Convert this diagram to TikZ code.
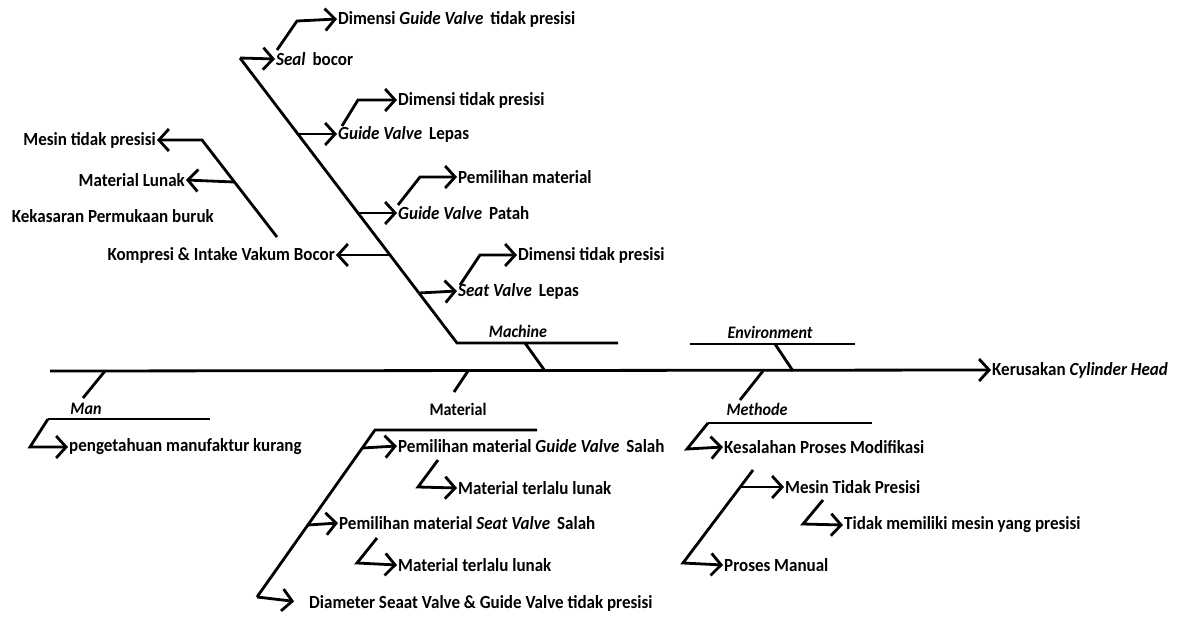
\documentclass[tikz,border=0pt]{standalone}
\usepackage{fontspec}
\setmainfont{Carlito}[FakeStretch=0.92]
\usetikzlibrary{arrows.meta}

\begin{document}
\begin{tikzpicture}[x=1pt,y=-1pt,
        bone/.style={line width=2.8pt},
        arr/.style={line width=2.8pt,-{Straight Barb[length=10pt,width=22pt]}},
        lbl/.style={font=\fontsize{18.5}{22}\selectfont\bfseries,inner sep=1pt,anchor=west},
        lblr/.style={lbl,anchor=east},
        cat/.style={font=\fontsize{17.5}{21}\selectfont\bfseries\itshape,inner sep=1pt}]
        \useasboundingbox (0,0) rectangle (1178,616);

        % spine
        \coordinate (tail) at (50,371);
        \node[lbl] (effect) at (991,370) {Kerusakan \textit{Cylinder Head}};
        \draw[arr] (tail) -- (effect.west);

        % Machine
        \coordinate (m0) at (240,58);
        \coordinate (m1) at (457,343);
        \coordinate (m2) at (618,343);
        \coordinate (mj) at (525,343);
        \coordinate (ms) at (545,371);
        \draw[bone] (m0) -- (m1) -- (m2);
        \draw[bone] (mj) -- (ms);
        \node[cat] (machine) at (518,331) {Machine};

        \node[lbl] (seal) at (275,59) {\textit{Seal}\ \,bocor};
        \draw[arr] (m0) -- (seal.west);
        \node[lbl] (seal1) at (337,19) {Dimensi \textit{Guide Valve}\ \,tidak presisi};
        \coordinate (s1a) at (277,50);
        \coordinate (s1b) at (297,21);
        \draw[arr] (s1a) -- (s1b) -- (seal1.west);

        \coordinate (gl) at (298,134);
        \node[lbl] (glepas) at (337,134) {\textit{Guide Valve}\ \,Lepas};
        \draw[arr] (gl) -- (glepas.west);
        \node[lbl] (glepas1) at (397,100) {Dimensi tidak presisi};
        \coordinate (g1a) at (342,126);
        \coordinate (g1b) at (358,100);
        \draw[arr] (g1a) -- (g1b) -- (glepas1.west);

        \coordinate (gp) at (358,213);
        \node[lbl] (gpatah) at (397,213) {\textit{Guide Valve}\ \,Patah};
        \draw[arr] (gp) -- (gpatah.west);
        \node[lbl] (gpatah1) at (457,177) {Pemilihan material};
        \coordinate (p1a) at (398,205);
        \coordinate (p1b) at (420,177);
        \draw[arr] (p1a) -- (p1b) -- (gpatah1.west);

        \coordinate (kp) at (390,255);
        \node[lblr] (kompresi) at (336,255) {Kompresi \& Intake Vakum Bocor};
        \draw[arr] (kp) -- (kompresi.east);
        \coordinate (k0) at (277,237);
        \coordinate (k1) at (202,140);
        \coordinate (k2) at (234,182);
        \node[lblr] (kmesin) at (157,140) {Mesin tidak presisi};
        \node[lblr] (klunak) at (186,180) {Material Lunak};
        \node[lblr] (kkasar) at (215,216) {Kekasaran Permukaan buruk};
        \draw[arr] (k0) -- (k1) -- (kmesin.east);
        \draw[arr] (k2) -- (klunak.east);

        \coordinate (sl) at (419,293);
        \node[lbl] (slepas) at (457,291) {\textit{Seat Valve}\ \,Lepas};
        \draw[arr] (sl) -- (slepas.west);
        \node[lbl] (slepas1) at (517,255) {Dimensi tidak presisi};
        \coordinate (l1a) at (460,285);
        \coordinate (l1b) at (480,255);
        \draw[arr] (l1a) -- (l1b) -- (slepas1.west);

        % Man
        \coordinate (a0) at (105,371);
        \coordinate (a1) at (83,398);
        \coordinate (a2) at (48,419);
        \coordinate (a3) at (210,419);
        \coordinate (a4) at (30,447);
        \draw[bone] (a0) -- (a1);
        \draw[bone] (a2) -- (a3);
        \node[cat] (man) at (86,409) {Man};
        \node[lbl] (pengetahuan) at (68,447) {pengetahuan manufaktur kurang};
        \draw[arr] (a2) -- (a4) -- (pengetahuan.west);

        % Material
        \coordinate (t0) at (468,371);
        \coordinate (t1) at (454,392);
        \coordinate (t2) at (375,430);
        \coordinate (t3) at (537,430);
        \coordinate (t4) at (257,597);
        \draw[bone] (t0) -- (t1);
        \draw[bone] (t3) -- (t2) -- (t4);
        \node[cat,font=\fontsize{17.5}{21}\selectfont\bfseries] (material) at (458,409) {Material};

        \coordinate (tg) at (362,448);
        \node[lbl] (tguide) at (397,446) {Pemilihan material \textit{Guide Valve}\ \,Salah};
        \draw[arr] (tg) -- (tguide.west);
        \node[lbl] (tguide1) at (457,488) {Material terlalu lunak};
        \coordinate (tg1a) at (438,460);
        \coordinate (tg1b) at (418,487);
        \draw[arr] (tg1a) -- (tg1b) -- (tguide1.west);

        \coordinate (ts) at (308,525);
        \node[lbl] (tseat) at (338,523) {Pemilihan material \textit{Seat Valve}\ \,Salah};
        \draw[arr] (ts) -- (tseat.west);
        \node[lbl] (tseat1) at (397,565) {Material terlalu lunak};
        \coordinate (ts1a) at (377,538);
        \coordinate (ts1b) at (357,563);
        \draw[arr] (ts1a) -- (ts1b) -- (tseat1.west);

        \node[lbl] (diameter) at (308,603) {Diameter Seaat Valve \& Guide Valve tidak presisi};
        \draw[arr,shorten >=14pt] (t4) -- (diameter.west);

        % Environment
        \coordinate (e0) at (690,344);
        \coordinate (e1) at (855,344);
        \coordinate (e2) at (775,344);
        \coordinate (e3) at (793,371);
        \draw[bone] (e0) -- (e1);
        \draw[bone] (e2) -- (e3);
        \node[cat] (environment) at (770,332) {Environment};

        % Methode
        \coordinate (d0) at (763,371);
        \coordinate (d1) at (740,400);
        \coordinate (d2) at (708,423);
        \coordinate (d3) at (872,423);
        \coordinate (d4) at (687,449);
        \draw[bone] (d0) -- (d1);
        \draw[bone] (d2) -- (d3);
        \node[cat] (methode) at (757,409) {Methode};
        \node[lbl] (kesalahan) at (723,447) {Kesalahan Proses Modifikasi};
        \draw[arr] (d2) -- (d4) -- (kesalahan.west);

        \coordinate (d5) at (753,470);
        \coordinate (d6) at (683,563);
        \coordinate (d7) at (740,487);
        \node[lbl] (manual) at (723,565) {Proses Manual};
        \node[lbl] (mesin) at (784,487) {Mesin Tidak Presisi};
        \draw[arr] (d5) -- (d6) -- (manual.west);
        \draw[arr] (d7) -- (mesin.west);
        \node[lbl] (mesin1) at (843,525) {Tidak memiliki mesin yang presisi};
        \coordinate (m1a) at (823,500);
        \coordinate (m1b) at (803,524);
        \draw[arr] (m1a) -- (m1b) -- (mesin1.west);
    \end{tikzpicture}
\end{document}
